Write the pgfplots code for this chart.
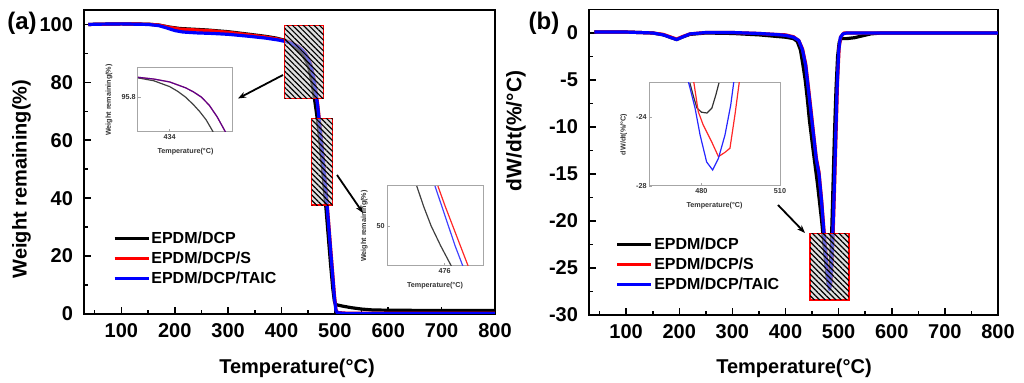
\documentclass[border=0pt]{standalone}
\usepackage{pgfplots}
\pgfplotsset{compat=1.18}
\usepackage{fontspec}
\setmainfont{Liberation Sans}
\usetikzlibrary{patterns.meta,arrows.meta}

\tikzset{
  hbox/.style={draw=red, line width=0.7pt, fill=gray!45, fill opacity=0.55,
    postaction={pattern={Lines[angle=-45,distance=1.9pt,line width=0.6pt]}, pattern color=black, fill opacity=0.6}},
}
\pgfplotsset{
  mainax/.style={
    scale only axis, clip=true,
    axis line style={line width=0.9pt},
    tick style={line width=0.8pt, black},
    major tick length=3.5pt, minor tick length=2pt,
    tick pos=left, tick align=inside,
    /pgf/number format/assume math mode=true,
    ticklabel style={font=\fontsize{10}{12}\selectfont\bfseries},
    yticklabel style={xshift=-2pt},
    xticklabel style={yshift=-1pt},
    legend style={draw=none, fill=none, font=\fontsize{8}{9}\selectfont\bfseries,
      row sep=1.5pt, nodes={inner sep=0.6pt}, cells={anchor=west}},
    legend image code/.code={\draw[##1, line width=1.6pt] (0pt,0pt) -- (17pt,0pt);},
    every axis plot/.append style={line width=1.6pt, line join=round},
  },
  insetax/.style={
    scale only axis, clip=true,
    axis line style={gray!70, line width=0.5pt},
    tick style={gray!70, line width=0.4pt},
    major tick length=1.5pt,
    tick pos=left, tick align=inside,
    /pgf/number format/assume math mode=true,
    ticklabel style={font=\fontsize{3.6}{4}\selectfont\bfseries, inner sep=1pt, text=black!80},
    label style={font=\fontsize{3.6}{4}\selectfont\bfseries, text=black!80},
    every axis plot/.append style={line width=0.6pt},
    xlabel={Temperature(°C)},
  },
}

\begin{document}
\begin{tikzpicture}
\useasboundingbox (0pt,0pt) rectangle (512pt,191.5pt);

% ---------------- (a) TGA ----------------
\begin{axis}[mainax, at={(42pt,34.5pt)}, anchor=south west,
  width=205.5pt, height=152pt,
  xmin=30, xmax=800, ymin=0, ymax=105,
  xtick={100,200,...,800}, minor xtick={50,150,...,750},
  ytick={0,20,...,100}, minor ytick={10,30,...,90},
  legend style={at={(0.055,0.29)}, anchor=north west}]
\addplot[black] coordinates {
(38,100) (60,100.1) (100,100.2) (150,100.1) (170,99.8) (190,99.1) (210,98.6) (230,98.4)
(260,98.1) (300,97.5) (340,96.6) (370,95.9) (390,95.3) (405,94.6) (415,93.8) (425,92.6)
(432,91.3) (438,89.9) (443,88.4) (448,86.7) (452,84.5) (456,81.0) (460,76.5) (464,71.5)
(468,66) (472,59.5) (476,52) (480,43.5) (484,35) (488,26) (492,17) (496,9) (499,4.5)
(501,3.4) (505,3.1) (515,2.7) (530,2.2) (550,1.7) (570,1.4) (600,1.3) (700,1.2) (800,1.2)};
\addlegendentry{EPDM/DCP}
\addplot[red] coordinates {
(38,100) (100,100.2) (150,100.1) (170,99.8) (190,99.0) (210,98.4) (240,98.1) (270,97.8)
(300,97.3) (340,96.4) (370,95.7) (395,94.9) (410,94.2) (420,93.6) (430,92.6) (438,91.4)
(445,89.9) (450,88.4) (455,86.1) (460,82.3) (464,77.6) (468,72.2) (472,65.3) (476,58)
(480,50) (484,41.5) (488,32.5) (492,23) (496,14) (499,7) (502,1.5) (505,0.5) (520,0.3) (800,0.3)};
\addlegendentry{EPDM/DCP/S}
\addplot[blue] coordinates {
(38,100) (60,100.1) (100,100.2) (150,100) (170,99.6) (185,98.8) (200,97.9) (215,97.4)
(240,97.1) (270,96.9) (300,96.6) (340,95.9) (370,95.3) (395,94.6) (410,94.0) (420,93.4)
(430,92.5) (438,91.3) (445,89.8) (450,88.2) (455,85.8) (460,81.8) (464,77) (468,71.5)
(472,64.5) (476,57) (480,49) (484,40.5) (488,31.5) (492,22) (496,13) (499,6) (502,1.2)
(505,0.4) (520,0.2) (800,0.2)};
\addlegendentry{EPDM/DCP/TAIC}
\path[hbox] (axis cs:405.8,74.5) rectangle (axis cs:479,99.7);
\path[hbox] (axis cs:456.5,37.6) rectangle (axis cs:495.9,67.6);
\end{axis}

% inset 1 (a)
\begin{axis}[insetax, at={(69pt,125.5pt)}, anchor=south west,
  width=47.5pt, height=32pt, xmin=430, xmax=442, ymin=95.2, ymax=96.3,
  xtick={434}, ytick={95.8}, ylabel={Weight remaining(\%)}]
\addplot[black!75] coordinates {(430,96.13) (432,96.08) (434,95.98) (435,95.9) (436,95.8) (437,95.67) (437.8,95.55) (438.6,95.41) (439.5,95.2)};
\addplot[red!80!black] coordinates {(430,96.14) (432,96.11) (434,96.06) (436,95.96) (437,95.89) (438,95.8) (439,95.66) (440,95.46) (441.05,95.2)};
\addplot[blue, opacity=0.55] coordinates {(430,96.14) (432,96.11) (434,96.06) (436,95.96) (437,95.89) (438,95.8) (439,95.66) (440,95.46) (441.05,95.2)};
\end{axis}

% inset 2 (a)
\begin{axis}[insetax, at={(193.5pt,58.5pt)}, anchor=south west,
  width=48pt, height=40pt, xmin=470, xmax=480, ymin=45, ymax=55,
  xtick={476}, ytick={50}, ylabel={Weight remaining(\%)}]
\addplot[black!75] coordinates {(473.1,55) (473.8,52.5) (474.6,50) (475.6,47.5) (476.7,45)};
\addplot[red!85] coordinates {(475.3,55) (476.05,52.5) (476.85,50) (477.65,47.5) (478.45,45)};
\addplot[blue!75] coordinates {(475.0,55) (475.7,52.5) (476.4,50) (477.1,47.5) (477.9,45)};
\end{axis}

% ---------------- (b) DTG ----------------
\begin{axis}[mainax, at={(294.5pt,34pt)}, anchor=south west,
  width=204.5pt, height=152.75pt,
  xmin=30, xmax=800, ymin=-30, ymax=2.5,
  xtick={100,200,...,800}, minor xtick={50,150,...,750},
  ytick={0,-5,...,-30}, minor ytick={-2.5,-7.5,...,-27.5},
  legend style={at={(0.05,0.272)}, anchor=north west}]
\addplot[black] coordinates {
(40,0.1) (100,0.1) (150,0) (170,-0.2) (185,-0.5) (195,-0.7) (205,-0.45) (220,-0.15) (250,0)
(300,-0.05) (350,-0.2) (380,-0.35) (400,-0.45) (415,-0.6) (422,-0.9) (428,-1.8) (433,-3.5)
(437,-5) (441,-7) (445,-9.3) (452,-12.5) (460,-16) (468,-20) (474,-23.5) (479,-26.3) (481,-26.9)
(483,-26.4) (486,-23) (489,-17) (492,-11) (495,-6) (498,-2.5) (501,-1) (505,-0.6) (515,-0.6)
(530,-0.5) (545,-0.3) (560,-0.1) (580,0) (800,0)};
\addlegendentry{EPDM/DCP}
\addplot[red] coordinates {
(40,0.1) (100,0.1) (150,0) (170,-0.15) (185,-0.45) (195,-0.65) (205,-0.4) (220,-0.1) (250,0.05)
(300,0.05) (350,-0.05) (380,-0.15) (400,-0.2) (415,-0.4) (425,-0.8) (432,-1.7) (438,-3.3)
(443,-5.7) (448,-8.2) (453,-10.8) (458,-13.3) (463,-14.8) (468,-17.8) (472,-20.7) (477,-24)
(481,-26.2) (484,-27.0) (486,-26.3) (489,-22.5) (492,-17) (495,-11) (498,-5) (501,-1.5)
(504,-0.4) (510,0) (800,0)};
\addlegendentry{EPDM/DCP/S}
\addplot[blue] coordinates {
(40,0.1) (100,0.1) (150,0) (170,-0.2) (185,-0.5) (195,-0.7) (205,-0.45) (220,-0.1) (250,0.05)
(300,0.05) (350,-0.05) (380,-0.15) (400,-0.25) (415,-0.45) (425,-0.8) (432,-1.8) (438,-3.5)
(443,-6) (448,-8.5) (453,-11) (458,-13.5) (463,-15) (468,-18) (472,-21) (477,-24.5) (481,-26.8)
(483,-27.3) (485,-26.5) (488,-23) (491,-18) (494,-12) (497,-6) (500,-2) (503,-0.5) (508,-0.1)
(515,0) (800,0)};
\addlegendentry{EPDM/DCP/TAIC}
\path[hbox] (axis cs:446.2,-28.4) rectangle (axis cs:519.4,-21.3);
\end{axis}

% inset (b)
\begin{axis}[insetax, at={(324.5pt,98.5pt)}, anchor=south west,
  width=65.5pt, height=51.5pt, xmin=460, xmax=510, ymin=-28, ymax=-22,
  xtick={480,510}, ytick={-24,-28}, ylabel={dW/dt(\%/°C)}]
\addplot[black!80] coordinates {(475.6,-22) (477,-22.8) (478.3,-23.46) (480,-23.7) (482.1,-23.75) (484,-23.46) (485.5,-22.7) (486.7,-22)};
\addplot[red!85] coordinates {(476.9,-21.75) (478.8,-23.67) (480.7,-24.45) (483.9,-25.42) (486.5,-26.29) (489.0,-26.04) (490.9,-25.8) (492.8,-23.86) (494.5,-21.9)};
\addplot[blue!85] coordinates {(475.0,-21.9) (477.6,-23.48) (479.5,-25.03) (482.0,-26.6) (484.3,-27.07) (486.5,-26.39) (489.0,-25.03) (491.2,-23.28) (492.4,-21.9)};
\end{axis}

% ---------------- labels & arrows (pixel coordinates) ----------------
\begin{scope}[shift={(0pt,191.5pt)}, x=0.5pt, y=-0.5pt]
\node[font=\fontsize{12}{14}\selectfont\bfseries] at (22,23.5) {(a)};
\node[font=\fontsize{12}{14}\selectfont\bfseries] at (544,23) {(b)};
\node[rotate=90, font=\fontsize{10}{12}\selectfont\bfseries] at (21.5,179) {Weight remaining(\%)};
\node[rotate=90, font=\fontsize{10.5}{12}\selectfont\bfseries] at (516,131) {dW/dt(\%/°C)};
\node[font=\fontsize{10}{12}\selectfont\bfseries] at (297,368) {Temperature(°C)};
\node[font=\fontsize{10}{12}\selectfont\bfseries] at (794,368) {Temperature(°C)};
\draw[-{Stealth[length=4pt,width=3pt]}, line width=0.9pt] (283,75) -- (238,98.5);
\draw[-{Stealth[length=4pt,width=3pt]}, line width=0.9pt] (337,175) -- (363,213);
\draw[-{Stealth[length=4pt,width=3pt]}, line width=0.9pt] (778,205) -- (805,233);
\end{scope}
\end{tikzpicture}
\end{document}
